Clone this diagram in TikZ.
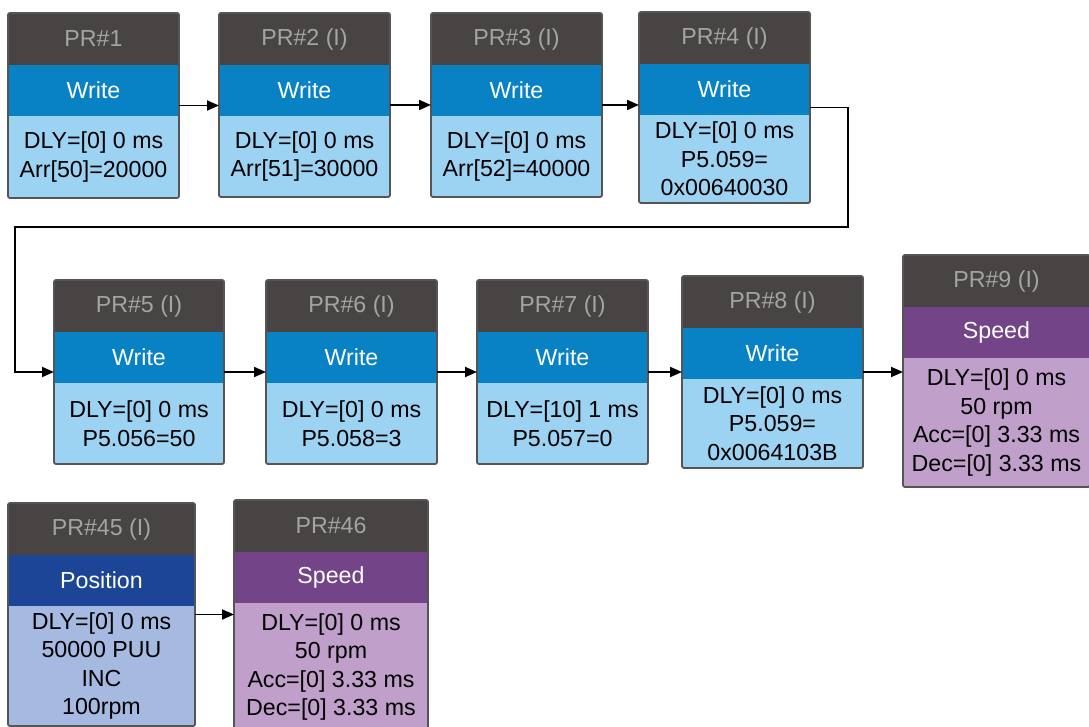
\documentclass[tikz,border=0pt]{standalone}
\usepackage{fontspec}
\setmainfont{Liberation Sans}
\usepackage{tikz}
\usetikzlibrary{arrows.meta}
\definecolor{headgray}{HTML}{474443}
\definecolor{titlegray}{HTML}{A4A4A4}
\definecolor{framegray}{HTML}{555555}
\definecolor{writeblue}{HTML}{0882C4}
\definecolor{writelight}{HTML}{9DD3F2}
\definecolor{speedpurple}{HTML}{734487}
\definecolor{speedlight}{HTML}{C09FCB}
\definecolor{posblue}{HTML}{1D4597}
\definecolor{poslight}{HTML}{A6B9E0}
\newcommand{\prfont}{\fontsize{23.2}{28.5}\selectfont}
\tikzset{
  part/.style={anchor=north west, inner sep=0pt, outer sep=0pt, font=\prfont, align=center},
  prhead/.style={part, fill=headgray, text=titlegray, minimum height=52pt},
  band/.style={part, text=white, minimum height=51pt},
  write band/.style={band, fill=writeblue},
  speed band/.style={band, fill=speedpurple},
  pos band/.style={band, fill=posblue},
  write body/.style={part, fill=writelight},
  speed body/.style={part, fill=speedlight},
  pos body/.style={part, fill=poslight},
  prframe/.style={anchor=north west, inner sep=0pt, outer sep=0pt, draw=framegray,
    line width=1.8pt, rounded corners=2pt},
  flow/.style={line width=1.9pt, -{Triangle[length=12pt,width=10pt]}},
}
% #1 name, #2 x, #3 y, #4 width, #5 body height, #6 title, #7 kind, #8 band text, #9 body text
\newcommand{\prbox}[9]{%
  \node[prhead, minimum width=#4pt] (#1-head) at (#2,#3) {#6};
  \node[#7 band, minimum width=#4pt] (#1-band) at (#1-head.south west) {#8};
  \node[#7 body, minimum width=#4pt, minimum height=#5pt] (#1-body) at (#1-band.south west) {#9};
  \node[prframe, minimum width=#4pt, minimum height=103pt+#5pt] (#1) at (#2,#3) {};
}

\begin{document}
\begin{tikzpicture}[x=1pt,y=-1pt]
\useasboundingbox (0,0) rectangle (1089,727);
% first row
\prbox{p1}{8}{13}{171}{82}{PR\#1}{write}{Write}{DLY=[0] 0 ms\\Arr[50]=20000}
\prbox{p2}{219}{13}{171}{81}{PR\#2 (I)}{write}{Write}{DLY=[0] 0 ms\\Arr[51]=30000}
\prbox{p3}{431}{13}{171}{81}{PR\#3 (I)}{write}{Write}{DLY=[0] 0 ms\\Arr[52]=40000}
\prbox{p4}{639}{12}{171}{88}{PR\#4 (I)}{write}{Write}{DLY=[0] 0 ms\\P5.059=\\0x00640030}
% second row
\prbox{p5}{54}{280}{170}{81}{PR\#5 (I)}{write}{Write}{DLY=[0] 0 ms\\P5.056=50}
\prbox{p6}{266}{280}{171}{81}{PR\#6 (I)}{write}{Write}{DLY=[0] 0 ms\\P5.058=3}
\prbox{p7}{477}{280}{171}{81}{PR\#7 (I)}{write}{Write}{DLY=[10] 1 ms\\P5.057=0}
\prbox{p8}{682}{276}{181}{89}{PR\#8 (I)}{write}{Write}{DLY=[0] 0 ms\\P5.059=\\0x0064103B}
\prbox{p9}{903}{255}{187}{129}{PR\#9 (I)}{speed}{Speed}{DLY=[0] 0 ms\\50 rpm\\Acc=[0] 3.33 ms\\Dec=[0] 3.33 ms}
% third row
\prbox{p45}{8}{503}{187}{120}{PR\#45 (I)}{pos}{Position}{DLY=[0] 0 ms\\50000 PUU\\INC\\100rpm}
\prbox{p46}{234}{500}{194}{128}{PR\#46}{speed}{Speed}{DLY=[0] 0 ms\\50 rpm\\Acc=[0] 3.33 ms\\Dec=[0] 3.33 ms}
% connectors
\coordinate (loopR) at (848,227);
\coordinate (loopL) at (15,227);
\draw[flow] (p1.east) -- (p1.east -| p2.west);
\draw[flow] (p2.east) -- (p2.east -| p3.west);
\draw[flow] (p3.east) -- (p3.east -| p4.west);
\draw[flow] (p4.east) -| (loopR) -- (loopL) |- (p5.west);
\draw[flow] (p5.east) -- (p5.east -| p6.west);
\draw[flow] (p6.east) -- (p6.east -| p7.west);
\draw[flow] (p7.east) -- (p7.east -| p8.west);
\draw[flow] (p8.east) -- (p8.east -| p9.west);
\draw[flow] (p45.east) -- (p45.east -| p46.west);
\end{tikzpicture}
\end{document}
